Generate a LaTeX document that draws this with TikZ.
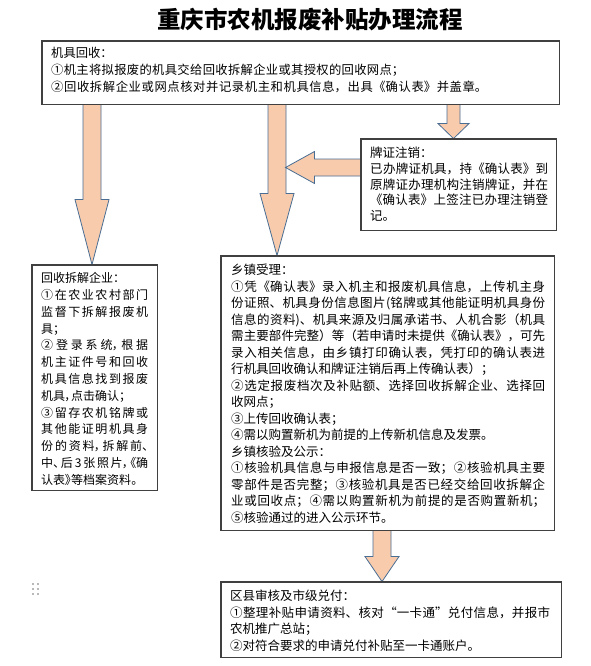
\documentclass[tikz,border=0pt]{standalone}
\usepackage{fontspec}
\usetikzlibrary{calc}
\newfontfamily\cjk{Noto Sans CJK SC}
\newfontfamily\cjkp[RawFeature=+palt]{Noto Sans CJK SC}
\XeTeXlinebreaklocale "zh"
\XeTeXlinebreakskip=0pt plus 3pt minus 0.6pt
\tolerance=10000
\definecolor{arrfill}{HTML}{F8CBAD}
\definecolor{arrline}{HTML}{4A6E93}
\definecolor{boxline}{HTML}{404040}
\newcommand\jl[2]{\parbox[t]{#1}{\parfillskip=0pt\relax #2\par}}
\newcommand\vblock[5]{%
  \draw[blk] let \p1=(#1), \p2=(#2) in
    (\x1-#3,\y1) -- (\x1-#3,\y2+#5) -- (\x1-#4,\y2+#5) -- (\x1,\y2)
    -- (\x1+#4,\y2+#5) -- (\x1+#3,\y2+#5) -- (\x1+#3,\y1) -- cycle;}
\newcommand\hblock[5]{%
  \draw[blk] let \p1=(#1), \p2=(#2) in
    (\x1,\y1-#3) -- (\x2+#5,\y1-#3) -- (\x2+#5,\y1-#4) -- (\x2,\y1)
    -- (\x2+#5,\y1+#4) -- (\x2+#5,\y1+#3) -- (\x1,\y1+#3) -- cycle;}
\tikzset{
  bx/.style={draw=boxline, line width=0.9pt, fill=white, inner sep=0pt},
  frame/.style={draw=boxline, line width=0.9pt},
  blk/.style={draw=arrline, line width=0.8pt, fill=arrfill, line join=miter},
  txt/.style={anchor=base west, inner sep=0pt, align=justify,
    execute at begin node={\parindent=0pt}},
  dot/.style={fill=gray!55, draw=none}
}
\begin{document}
\begin{tikzpicture}[x=1pt,y=-1pt]
\useasboundingbox (0,0) rectangle (590,666);
\fill[white] (0,0) rectangle (590,666);

% title
\node[font=\cjk\bfseries\fontsize{23.5}{28}\selectfont, inner sep=0pt] (title) at (310,20) {重庆市农机报废补贴办理流程};

% boxes (frames)
\node[bx, minimum width=517pt, minimum height=63pt] (top) at (300.5,72.5) {};
\node[bx, minimum width=195pt, minimum height=91pt] (pz) at (458.5,184.5) {};
\node[bx, minimum width=125pt, minimum height=225pt] (lbox) at (94.5,377.5) {};
\node[bx, minimum width=333pt, minimum height=274pt] (mid) at (387.5,393) {};
\node[bx, minimum width=340pt, minimum height=75pt] (bot) at (391,619.5) {};

% arrow anchor coordinates
\coordinate (a1e) at ([xshift=-2.5pt]lbox.north);
\coordinate (a1s) at (a1e |- top.south);
\coordinate (a2e) at ([xshift=-110.5pt]mid.north);
\coordinate (a2s) at (a2e |- top.south);
\coordinate (a3e) at ([xshift=-5pt]pz.north);
\coordinate (a3s) at (a3e |- top.south);
\coordinate (a4s) at ([yshift=17pt]pz.west);
\coordinate (a4e) at ([xshift=8.5pt]a4s -| a2e);
\coordinate (a5e) at ([xshift=-9pt]bot.north);
\coordinate (a5s) at (a5e |- mid.south);

% block arrows
\vblock{a1s}{a1e}{9pt}{17pt}{65pt}
\vblock{a2s}{a2e}{9pt}{17pt}{62pt}
\vblock{a3s}{a3e}{6.5pt}{15.5pt}{15pt}
\hblock{a4s}{a4e}{8.5pt}{16pt}{29pt}
\vblock{a5s}{a5e}{9pt}{17pt}{25pt}

% redraw frames on top of arrow tips
\draw[frame] (top.north west) rectangle (top.south east);
\draw[frame] (pz.north west) rectangle (pz.south east);
\draw[frame] (lbox.north west) rectangle (lbox.south east);
\draw[frame] (mid.north west) rectangle (mid.south east);
\draw[frame] (bot.north west) rectangle (bot.south east);

% texts
\node[txt, text width=499pt, font=\cjk\fontsize{12.3}{17}\selectfont] (toptext) at (51,57.7) {%
机具回收：\\
\jl{353pt}{①机主将拟报废的机具交给回收拆解企业或其授权的回收网点；}\\
\jl{436pt}{②回收拆解企业或网点核对并记录机主和机具信息，出具《确认表》并盖章。}};

\node[txt, text width=178pt, font=\cjk\fontsize{12.5}{15.7}\selectfont] (pztext) at (370,157.8) {%
牌证注销：\\
已办牌证机具，持《确认表》到\linebreak 原牌证办理机构注销牌证，并在\linebreak 《确认表》上签注已办理注销登\linebreak 记。};

\node[txt, text width=107pt, font=\cjkp\fontsize{12}{16.8}\selectfont] (ltext) at (41,282.6) {%
回收拆解企业：\\
①在农业农村部门\linebreak 监督下拆解报废机\linebreak 具；\\
②登录系统，根据\linebreak 机主证件号和回收\linebreak 机具信息找到报废\linebreak 机具，点击确认；\\
③留存农机铭牌或\linebreak 其他能证明机具身\linebreak 份的资料，拆解前、\linebreak 中、后\,3\,张照片，《确\linebreak 认表》等档案资料。};

\node[txt, text width=314pt, font=\cjk\fontsize{12.5}{16.5}\selectfont] (mtext) at (231,274.75) {%
乡镇受理：\\
①凭《确认表》录入机主和报废机具信息，上传机主身\linebreak 份证照、机具身份信息图片(铭牌或其他能证明机具身份\linebreak 信息的资料)、机具来源及归属承诺书、人机合影（机具\linebreak 需主要部件完整）等（若申请时未提供《确认表》，可先\linebreak 录入相关信息，由乡镇打印确认表，凭打印的确认表进\linebreak 行机具回收确认和牌证注销后再上传确认表）；\\
②选定报废档次及补贴额、选择回收拆解企业、选择回\linebreak 收网点；\\
③上传回收确认表；\\
④需以购置新机为前提的上传新机信息及发票。\\
乡镇核验及公示：\\
①核验机具信息与申报信息是否一致；②核验机具主要\linebreak 零部件是否完整；③核验机具是否已经交给回收拆解企\linebreak 业或回收点；④需以购置新机为前提的是否购置新机；\linebreak ⑤核验通过的进入公示环节。};

\node[txt, text width=320pt, font=\cjk\fontsize{12.5}{16.5}\selectfont] (btext) at (230,600.75) {%
区县审核及市级兑付：\\
①整理补贴申请资料、核对“一卡通”兑付信息，并报市\linebreak 农机推广总站；\\
②对符合要求的申请兑付补贴至一卡通账户。};

% anchor dots
\foreach \dx in {32,37}{
  \foreach \dy in {583,588,592.5}{
    \fill[dot] (\dx,\dy) rectangle ++(2.2,2.2);
  }
}
\end{tikzpicture}
\end{document}
